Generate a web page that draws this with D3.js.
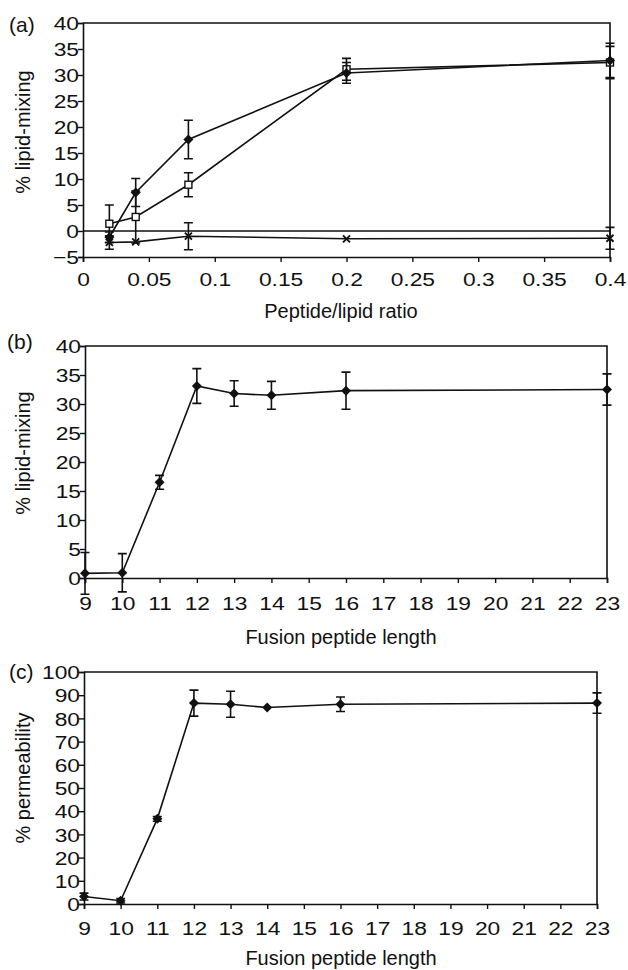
<!DOCTYPE html>
<html>
<head>
<meta charset="utf-8">
<script src="https://cdn.jsdelivr.net/npm/d3@7"></script>
<style>
  body { margin: 0; background: #fff; }
  text { font-family: "Liberation Sans", Arial, Helvetica, sans-serif; fill: #111; }
</style>
</head>
<body>
<div id="chart"></div>
<script>
// ---- panel (a): lipid mixing vs peptide/lipid ratio ----
const ratio = [0.02, 0.04, 0.08, 0.2, 0.4];
const diamondA = [-1.2, 7.4, 17.6, 30.4, 32.8];
const diamondAErr = [1.0, 2.7, 3.7, 2.0, 3.3];
const squareA = [1.4, 2.7, 8.9, 31.1, 32.4];
const squareAErr = [3.6, 5.0, 2.3, 2.1, 3.1];
const crossA = [-2.2, -2.1, -1.0, -1.5, -1.4];
const crossAErr = [1.3, 0, 2.6, 0, 2.1];
const ratioTicks = [0, 0.05, 0.1, 0.15, 0.2, 0.25, 0.3, 0.35, 0.4];
const mixTicksA = [-5, 0, 5, 10, 15, 20, 25, 30, 35, 40];

// ---- panel (b): lipid mixing vs fusion peptide length ----
const lengths = [9, 10, 11, 12, 13, 14, 16, 23];
const mixB = [0.8, 0.9, 16.5, 33.1, 31.8, 31.5, 32.3, 32.5];
const mixBErr = [3.6, 3.3, 1.2, 3.0, 2.2, 2.4, 3.2, 2.7];
const mixTicksB = [0, 5, 10, 15, 20, 25, 30, 35, 40];

// ---- panel (c): permeability vs fusion peptide length ----
const lengthsC = [9, 10, 11, 12, 13, 14, 16, 23];
const permC = [3.2, 1.4, 36.7, 86.6, 86.1, 84.7, 86.1, 86.6];
const permCErr = [1.5, 1.0, 1.0, 5.6, 5.6, 0, 3.1, 4.4];
const permTicks = [0, 10, 20, 30, 40, 50, 60, 70, 80, 90, 100];
const lengthTicks = d3.range(9, 24);

const W = 628, H = 970;
const TICK_FONT = 19, TICK_STRETCH = 1.2, TITLE_FONT = 20;

const svg = d3.select("#chart").append("svg")
  .attr("width", W).attr("height", H);

// marker shapes
const diamondPath = "M0,-5L5,0L0,5L-5,0Z";
function drawMarker(g, kind) {
  if (kind === "diamond") {
    g.append("path").attr("d", diamondPath).attr("fill", "#111");
  } else if (kind === "square") {
    g.append("rect").attr("x", -3.5).attr("y", -3.5).attr("width", 7).attr("height", 7)
      .attr("fill", "#fff").attr("stroke", "#111").attr("stroke-width", 1.4);
  } else if (kind === "cross") {
    g.append("path").attr("d", "M-3.5,-3.5L3.5,3.5M-3.5,3.5L3.5,-3.5")
      .attr("stroke", "#111").attr("stroke-width", 1.9);
  }
}

function drawPanel(cfg) {
  const x = d3.scaleLinear().domain(cfg.xDomain).range([cfg.left, cfg.right]);
  const y = d3.scaleLinear().domain(cfg.yDomain).range([cfg.bottom, cfg.top]);
  const g = svg.append("g");

  // frame (top + right)
  g.append("path")
    .attr("d", `M${cfg.left},${cfg.top}H${cfg.right}V${cfg.bottom}`)
    .attr("fill", "none").attr("stroke", "#111").attr("stroke-width", 1.6);

  // zero line
  if (cfg.zeroLine) {
    g.append("line")
      .attr("x1", x.range()[0]).attr("x2", x.range()[1])
      .attr("y1", y(0)).attr("y2", y(0))
      .attr("stroke", "#111").attr("stroke-width", 1.6);
  }

  const xAxis = g.append("g")
    .attr("transform", `translate(0,${cfg.bottom})`)
    .call(d3.axisBottom(x).tickValues(cfg.xTicks).tickSize(5)
      .tickFormat(cfg.xFormat || (d => d)));
  const yAxis = g.append("g")
    .attr("transform", `translate(${cfg.left},0)`)
    .call(d3.axisLeft(y).tickValues(cfg.yTicks).tickSize(5));
  [xAxis, yAxis].forEach(a => {
    a.select(".domain").attr("stroke", "#111").attr("stroke-width", 1.6);
    a.selectAll(".tick line").attr("stroke", "#111").attr("stroke-width", 1.4);
    a.selectAll("text").style("font-size", TICK_FONT + "px").attr("fill", "#111");
  });
  // wide tick glyphs, as in the original figure
  xAxis.selectAll(".tick text")
    .attr("y", 0).attr("dy", 0)
    .attr("transform", `translate(0,${cfg.xLabelOffset}) scale(${TICK_STRETCH},1)`);
  yAxis.selectAll(".tick text")
    .attr("x", 0).attr("dy", "0.35em")
    .attr("transform", `translate(-4,0) scale(${TICK_STRETCH},1)`);

  // series
  cfg.series.forEach(s => {
    const pts = cfg.xs.map((xv, i) => ({ x: xv, y: s.values[i], e: s.err[i] }));
    const eb = g.append("g");
    pts.filter(p => p.e > 0).forEach(p => {
      const px = x(p.x), y1 = y(p.y + p.e), y2 = y(p.y - p.e);
      eb.append("path")
        .attr("d", `M${px},${y1}V${y2}M${px - 4.5},${y1}H${px + 4.5}M${px - 4.5},${y2}H${px + 4.5}`)
        .attr("stroke", "#111").attr("stroke-width", 1.6).attr("fill", "none");
    });
    g.append("path").datum(pts)
      .attr("d", d3.line().x(d => x(d.x)).y(d => y(d.y)))
      .attr("fill", "none").attr("stroke", "#111").attr("stroke-width", 1.6);
    pts.forEach(p => {
      const m = g.append("g").attr("transform", `translate(${x(p.x)},${y(p.y)})`);
      drawMarker(m, s.marker);
    });
  });

  // labels
  svg.append("text").attr("x", cfg.tagX).attr("y", cfg.tagY)
    .style("font-size", "21px").text(cfg.tag);
  svg.append("text")
    .attr("transform", `translate(30,${cfg.yTitleY}) rotate(-90)`)
    .attr("text-anchor", "middle").style("font-size", TITLE_FONT + "px").text(cfg.yTitle);
  svg.append("text").attr("x", 341).attr("y", cfg.xTitleY)
    .attr("text-anchor", "middle").style("font-size", TITLE_FONT + "px").text(cfg.xTitle);
}

drawPanel({
  tag: "(a)", tagX: 9, tagY: 32,
  left: 83, right: 610, top: 23, bottom: 257,
  xDomain: [0, 0.4], yDomain: [-5, 40],
  xTicks: ratioTicks, yTicks: mixTicksA, xLabelOffset: 29,
  xFormat: d => String(+d.toFixed(2)),
  zeroLine: true,
  xs: ratio,
  series: [
    { values: crossA, err: crossAErr, marker: "cross" },
    { values: squareA, err: squareAErr, marker: "square" },
    { values: diamondA, err: diamondAErr, marker: "diamond" }
  ],
  yTitle: "% lipid-mixing", yTitleY: 132,
  xTitle: "Peptide/lipid ratio", xTitleY: 318
});

drawPanel({
  tag: "(b)", tagX: 7, tagY: 349,
  left: 85, right: 607, top: 346, bottom: 578,
  xDomain: [9, 23], yDomain: [0, 40],
  xTicks: lengthTicks, yTicks: mixTicksB, xLabelOffset: 32,
  xs: lengths,
  series: [{ values: mixB, err: mixBErr, marker: "diamond" }],
  yTitle: "% lipid-mixing", yTitleY: 453,
  xTitle: "Fusion peptide length", xTitleY: 644
});

drawPanel({
  tag: "(c)", tagX: 9, tagY: 679,
  left: 84, right: 597, top: 672, bottom: 904,
  xDomain: [9, 23], yDomain: [0, 100],
  xTicks: lengthTicks, yTicks: permTicks, xLabelOffset: 31,
  xs: lengthsC,
  series: [{ values: permC, err: permCErr, marker: "diamond" }],
  yTitle: "% permeability", yTitleY: 778,
  xTitle: "Fusion peptide length", xTitleY: 965
});
</script>
</body>
</html>
